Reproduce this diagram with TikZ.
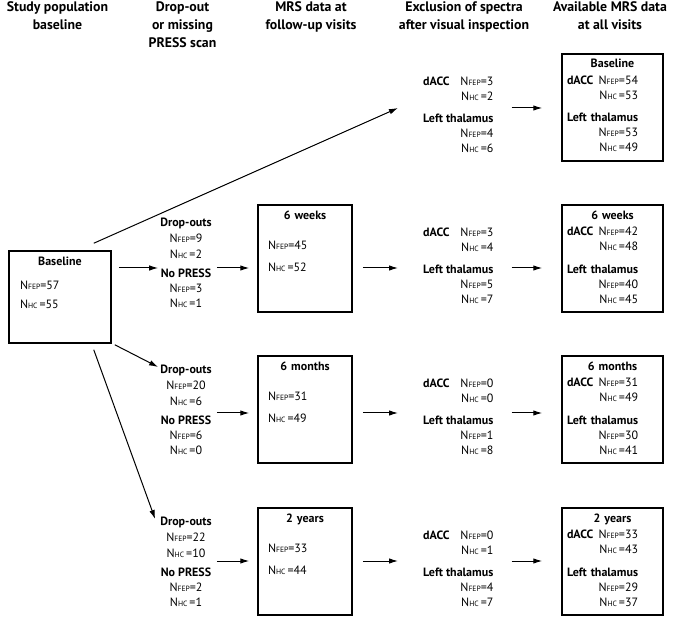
\documentclass[tikz,border=0pt]{standalone}
\usepackage{fontspec}
\setmainfont{PT Sans}
\usepackage{tikz}
\usetikzlibrary{arrows.meta,positioning,calc}

\newcommand{\Nsub}[1]{N{\fontsize{7.6}{8}\selectfont #1}}
\newcommand{\NFEP}{\Nsub{FEP}}
\newcommand{\NHC}{\Nsub{HC}\,}
\newcommand{\regions}[4]{%
  \begin{tabular}[t]{@{}l@{\hspace{4pt}}r@{}}
    \textbf{dACC} & \NFEP=#1\\
    & \NHC=#2\\[7.5pt]
    \multicolumn{2}{@{}l@{}}{\textbf{Left thalamus}}\\
    & \NFEP=#3\\
    & \NHC=#4
  \end{tabular}}
\newcommand{\avail}[5]{\makebox[\linewidth]{\textbf{#1}}\\[1.5pt]\regions{#2}{#3}{#4}{#5}}
\newcommand{\visit}[3]{\makebox[\linewidth]{\textbf{#1}}\\[15pt]\NFEP=#2\\[7pt]\NHC=#3}
\newcommand{\dropped}[4]{\textbf{Drop-outs}\\[1pt]\NFEP=#1\\[1pt]\NHC=#2\\[4pt]\textbf{No PRESS}\\\NFEP=#3\\\NHC=#4}

\begin{document}
\begin{tikzpicture}[x=1pt,y=-1pt]
  \tikzstyle{header}=[font=\fontsize{13.8}{18}\selectfont\bfseries,align=center,anchor=north,inner sep=0pt]
  \tikzstyle{stagebox}=[rectangle,draw=black,line width=1.5pt,inner sep=0pt]
  \tikzstyle{visitbox}=[stagebox,minimum width=94pt,minimum height=107pt]
  \tikzstyle{availbox}=[stagebox,minimum width=101pt,minimum height=107pt]
  \tikzstyle{boxtext}=[font=\fontsize{12}{15}\selectfont,align=left,inner sep=0pt]
  \tikzstyle{tally}=[font=\fontsize{12}{15}\selectfont,inner sep=0pt]

  \useasboundingbox (0,0) rectangle (675,617);

  \node[header] (hStudy) at (57.5,1.5) {Study population\\baseline};
  \node[header] (hDrop) at (182.5,1.5) {Drop-out\\or missing\\PRESS scan};
  \node[header] (hMRS) at (311,1.5) {MRS data at\\follow-up visits};
  \node[header] (hExcl) at (464,1.5) {Exclusion of spectra\\after visual inspection};
  \node[header] (hAvail) at (610,1.5) {Available MRS data\\at all visits};

  \coordinate (rowB) at (0,108);
  \coordinate (rowW) at (0,268);
  \coordinate (rowM) at (0,413);
  \coordinate (rowY) at (0,561);

  \node[stagebox,minimum width=102pt,minimum height=92pt] (base) at (60,297) {};
  \node[boxtext,text width=80pt,below=7pt of base.north] (baseTxt) {\makebox[\linewidth]{\textbf{Baseline}}\\[9pt]\NFEP=57\\[4pt]\NHC=55};

  \node[tally,align=center,anchor=north] (dropW) at (186,218) {\dropped{9}{2}{3}{1}};
  \node[tally,align=center,anchor=north] (dropM) at (186,365) {\dropped{20}{6}{6}{0}};
  \node[tally,align=center,anchor=north] (dropY) at (186,517) {\dropped{22}{10}{2}{1}};

  \node[visitbox] (visW) at (305,258.5) {};
  \node[visitbox] (visM) at (305,409.5) {};
  \node[visitbox] (visY) at (305,561.5) {};
  \node[boxtext,text width=74pt,below=6pt of visW.north] (visWTxt) {\visit{6 weeks}{45}{52}};
  \node[boxtext,text width=74pt,below=6pt of visM.north] (visMTxt) {\visit{6 months}{31}{49}};
  \node[boxtext,text width=74pt,below=6pt of visY.north] (visYTxt) {\visit{2 years}{33}{44}};

  \node[tally,anchor=north west] (exclB) at (423,74.5) {\regions{3}{2}{4}{6}};
  \node[tally,anchor=north west] (exclW) at (423,225.5) {\regions{3}{4}{5}{7}};
  \node[tally,anchor=north west] (exclM) at (423,376.5) {\regions{0}{0}{1}{8}};
  \node[tally,anchor=north west] (exclY) at (423,528.5) {\regions{0}{1}{4}{7}};

  \node[availbox] (avB) at (612.5,107.5) {};
  \node[availbox] (avW) at (612.5,258.5) {};
  \node[availbox] (avM) at (612.5,409.5) {};
  \node[availbox] (avY) at (612.5,561.5) {};
  \node[boxtext,text width=91pt,below=6pt of avB.north] (avBTxt) {\avail{Baseline}{54}{53}{53}{49}};
  \node[boxtext,text width=91pt,below=6pt of avW.north] (avWTxt) {\avail{6 weeks}{42}{48}{40}{45}};
  \node[boxtext,text width=91pt,below=6pt of avM.north] (avMTxt) {\avail{6 months}{31}{49}{30}{41}};
  \node[boxtext,text width=91pt,below=6pt of avY.north] (avYTxt) {\avail{2 years}{33}{43}{29}{37}};

  \draw[line width=1pt,-{Latex[length=9pt,width=5.5pt]}] ($(base.north east)+(-18,-7)$) -- ([xshift=-25pt]exclB.west |- rowB);
  \draw[line width=1pt,-{Latex[length=9pt,width=5.5pt]}] ($(base.south east)+(3,1)$) -- ($(dropM.north west)+(-2,2)$);
  \draw[line width=1pt,-{Latex[length=9pt,width=5.5pt]}] ($(base.south east)+(-18,6)$) -- ($(dropY.north west)+(-5,2)$);
  \draw[line width=1pt,-{Latex[length=9pt,width=5.5pt]}] ([xshift=7pt]base.east |- rowW) -- ([xshift=-2pt]dropW.west |- rowW);
  \draw[line width=1pt,-{Latex[length=9pt,width=5.5pt]}] ([xshift=5pt]dropW.east |- rowW) -- ([xshift=-8pt]visW.west |- rowW);
  \draw[line width=1pt,-{Latex[length=9pt,width=5.5pt]}] ([xshift=5pt]dropM.east |- rowM) -- ([xshift=-8pt]visM.west |- rowM);
  \draw[line width=1pt,-{Latex[length=9pt,width=5.5pt]}] ([xshift=5pt]dropY.east |- rowY) -- ([xshift=-8pt]visY.west |- rowY);
  \draw[line width=1pt,-{Latex[length=9pt,width=5.5pt]}] ([xshift=10pt]visW.east |- rowW) -- ([xshift=-25pt]exclW.west |- rowW);
  \draw[line width=1pt,-{Latex[length=9pt,width=5.5pt]}] ([xshift=10pt]visM.east |- rowM) -- ([xshift=-25pt]exclM.west |- rowM);
  \draw[line width=1pt,-{Latex[length=9pt,width=5.5pt]}] ([xshift=10pt]visY.east |- rowY) -- ([xshift=-25pt]exclY.west |- rowY);
  \draw[line width=1pt,-{Latex[length=9pt,width=5.5pt]}] ([xshift=18pt]exclB.east |- rowB) -- ([xshift=-19pt]avB.west |- rowB);
  \draw[line width=1pt,-{Latex[length=9pt,width=5.5pt]}] ([xshift=18pt]exclW.east |- rowW) -- ([xshift=-19pt]avW.west |- rowW);
  \draw[line width=1pt,-{Latex[length=9pt,width=5.5pt]}] ([xshift=18pt]exclM.east |- rowM) -- ([xshift=-19pt]avM.west |- rowM);
  \draw[line width=1pt,-{Latex[length=9pt,width=5.5pt]}] ([xshift=18pt]exclY.east |- rowY) -- ([xshift=-19pt]avY.west |- rowY);
\end{tikzpicture}
\end{document}
